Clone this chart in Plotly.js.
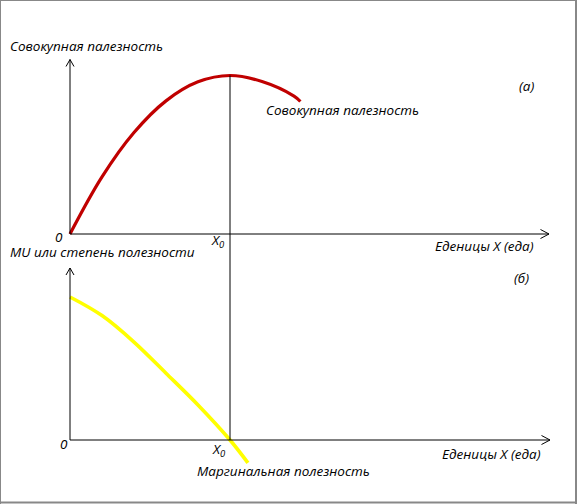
<!DOCTYPE html>
<html>
<head>
<meta charset="utf-8">
<script src="https://cdn.plot.ly/plotly-3.0.1.min.js"></script>
<style>html,body{margin:0;padding:0;background:#fff;}#chart{width:577px;height:504px;}</style>
</head>
<body>
<div id="chart"></div>
<script>
// ---- data ----
const unitsTU = [0, 1, 2, 3, 4, 5, 6, 7, 7.2];
const totalUtility = [0, 18, 32, 42, 48, 50, 48.1, 43.5, 41.8];
const unitsMU = [0, 1, 2, 3, 4, 5, 5.56];
const marginalUtility = [10, 8.7, 6.85, 4.67, 2.45, 0, -1.6];
const xZero = 5;           // X0
const tuMax = 50;
const labelTU = 'Совокупная палезность';
const labelMUaxis = 'MU или степень полезности';
const labelMU = 'Маргинальная полезность';
const labelX = 'Еденицы X (еда)';
const panelA = '(а)';
const panelB = '(б)';

// ---- geometry helpers (layout only) ----
const W = 577, H = 504;
const px = x => x / W;
const py = y => 1 - y / H;
const FONT = {family: 'Open Sans, Noto Sans, sans-serif', size: 13.5, color: '#000'};

const traces = [
  {x: unitsTU, y: totalUtility, xaxis: 'x', yaxis: 'y', mode: 'lines',
   line: {color: '#c00000', width: 3.2, shape: 'spline', smoothing: 1}, hoverinfo: 'skip'},
  {x: unitsMU, y: marginalUtility, xaxis: 'x', yaxis: 'y2', mode: 'lines',
   line: {color: '#ffff00', width: 3.6, shape: 'spline', smoothing: 1}, hoverinfo: 'skip'}
];

const xr = [-70/32, (W-70)/32];
const yr1 = [-(252-234)/3.17, 234/3.17];
const yr2 = [-(504-440)/14.3, (440-252)/14.3];

function seg(x0,y0,x1,y1,color,width){
  return {type:'line', xref:'paper', yref:'paper', x0:px(x0), y0:py(y0), x1:px(x1), y1:py(y1),
          line:{color:color||'#000', width:width||1}, layer:'above'};
}
const shapes = [
  // top panel axes
  {type:'line', xref:'x', yref:'y', x0:0, y0:0, x1:0, y1:(234-59.5)/3.17, line:{color:'#000',width:1}},
  {type:'line', xref:'x', yref:'y', x0:0, y0:0, x1:(549-70)/32, y1:0, line:{color:'#000',width:1}},
  // bottom panel axes
  {type:'line', xref:'x', yref:'y2', x0:0, y0:0, x1:0, y1:(440-268)/14.3, line:{color:'#000',width:1}},
  {type:'line', xref:'x', yref:'y2', x0:0, y0:0, x1:(550-70)/32, y1:0, line:{color:'#000',width:1}},
  // X0 vertical line through both panels
  {type:'line', xref:'x', yref:'y', x0:xZero, y0:yr1[0], x1:xZero, y1:tuMax, line:{color:'#000',width:1}},
  {type:'line', xref:'x', yref:'y2', x0:xZero, y0:0, x1:xZero, y1:yr2[1], line:{color:'#000',width:1}},
  // arrow heads (open chevrons)
  seg(66,66.5,70,59.5), seg(74,66.5,70,59.5),
  seg(540.5,229.5,549,234), seg(540.5,238.5,549,234),
  seg(66,275,70,268), seg(74,275,70,268),
  seg(541.5,435.5,550,440), seg(541.5,444.5,550,440),
  // frame
  seg(0.5,0,0.5,504,'#888',1), seg(0,0.5,577,0.5,'#888',1),
  seg(576,0,576,504,'#888',2), seg(0,502.5,577,502.5,'#888',2)
];

function txt(text,x,y,anchor,extra){
  return Object.assign({text:text, xref:'paper', yref:'paper', x:px(x), y:py(y),
    xanchor:anchor||'left', yanchor:'middle', showarrow:false, font:FONT}, extra||{});
}
const annotations = [
  txt('<i>'+labelTU+'</i>', 8, 46),
  txt('<i>'+labelTU+'</i>', 264, 110),
  txt('<i>'+panelA+'</i>', 526, 86, 'center'),
  txt('<i>'+panelB+'</i>', 521, 278, 'center'),
  txt('<i>0</i>', 59, 237, 'center'),
  txt('<i>X<sub>0</sub></i>', 218, 241, 'center'),
  txt('<i>'+labelMUaxis+'</i>', 8, 252),
  txt('<i>'+labelX+'</i>', 536, 246, 'right'),
  txt('<i>0</i>', 64, 444, 'center'),
  txt('<i>X<sub>0</sub></i>', 219, 450, 'center'),
  txt('<i>'+labelMU+'</i>', 195, 471),
  txt('<i>'+labelX+'</i>', 543, 454, 'right')
];

const layout = {
  width: W, height: H, margin: {l:0, r:0, t:0, b:0},
  paper_bgcolor: '#fff', plot_bgcolor: '#fff', showlegend: false,
  xaxis: {range: xr, visible: false, fixedrange: true},
  yaxis: {range: yr1, domain: [0.5, 1], visible: false, fixedrange: true},
  yaxis2: {range: yr2, domain: [0, 0.5], visible: false, fixedrange: true, anchor: 'x'},
  shapes: shapes, annotations: annotations
};
Plotly.newPlot('chart', traces, layout, {staticPlot: true});
</script>
</body>
</html>
